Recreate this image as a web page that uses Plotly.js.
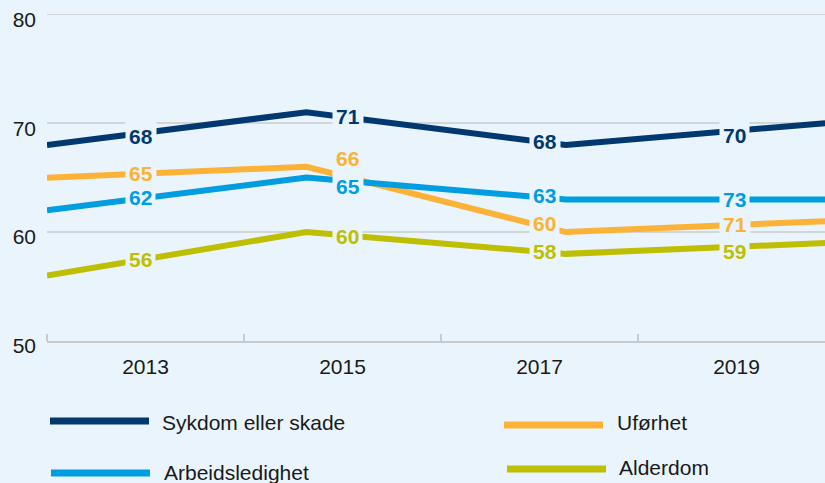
<!DOCTYPE html>
<html><head><meta charset="utf-8">
<script src="https://cdn.plot.ly/plotly-3.0.1.min.js"></script>
<style>html,body{margin:0;padding:0;overflow:hidden;background:#e9f4fc;width:825px;height:483px}</style>
</head><body><div id="chart" style="width:850px;height:483px"></div>
<script>
// ---- data ----
const years = ['2013', '2015', '2017', '2019'];
const seriesNames = ['Sykdom eller skade', 'Uførhet', 'Arbeidsledighet', 'Alderdom'];
const sykdom = [68, 71, 68, 70];
const uforhet = [65, 66, 60, 61];
const arbeid = [62, 65, 63, 63];
const alderdom = [56, 60, 58, 59];
// data labels as printed in the chart
const sykdomLabels = ['68', '71', '68', '70'];
const uforhetLabels = ['65', '66', '60', '71'];
const arbeidLabels = ['62', '65', '63', '73'];
const alderdomLabels = ['56', '60', '58', '59'];
const yTicks = [50, 60, 70, 80];

// ---- style ----
const BG = '#e9f4fc';
const colors = ['#00386f', '#fbb236', '#009de0', '#bebf00'];
const FONT = 'Liberation Sans, Arial, Helvetica, sans-serif';
const lineSpan = 3.95;            // line runs across (almost) the whole category band area
const labelXShift = [-5, 5, 5, -2];
const labelYShift = [
  [-4, 0, 0, -5],
  [0, 17, 2, 0],
  [0, -6, 2, 0],
  [0, -1, 0, -5]
];

const values = [sykdom, uforhet, arbeid, alderdom];
const labels = [sykdomLabels, uforhetLabels, arbeidLabels, alderdomLabels];
const n = years.length;
const lineX = years.map((_, i) => i * lineSpan / (n - 1));
const catX = years.map((_, i) => i + 0.5);

function interp(xs, ys, x) {
  for (let i = 0; i < xs.length - 1; i++) {
    if (x >= xs[i] && x <= xs[i + 1]) {
      const t = (x - xs[i]) / (xs[i + 1] - xs[i]);
      return ys[i] + t * (ys[i + 1] - ys[i]);
    }
  }
  return ys[ys.length - 1];
}

const traces = values.map((v, s) => ({
  type: 'scatter', mode: 'lines', x: lineX, y: v, name: seriesNames[s],
  line: {color: colors[s], width: 6}, hoverinfo: 'skip', showlegend: false
}));

const annotations = [];
values.forEach((v, s) => {
  catX.forEach((cx, i) => {
    annotations.push({
      x: cx, y: interp(lineX, v, cx), xref: 'x', yref: 'y',
      text: labels[s][i], showarrow: false,
      xshift: labelXShift[i], yshift: labelYShift[s][i],
      font: {family: FONT, size: 21, color: colors[s], weight: 'bold'},
      bgcolor: BG, borderpad: 3
    });
  });
});

// legend (drawn with shapes + text, in plot-relative paper coordinates)
const L = 47, W = 788, T = 11, H = 330;
const px = x => (x - L) / W;
const py = y => (T + H - y) / H;
const legendItems = [
  {s: 0, x0: 50, x1: 149, y: 421, tx: 160, ty: 422},
  {s: 1, x0: 504, x1: 603, y: 425, tx: 615, ty: 422},
  {s: 2, x0: 51, x1: 150, y: 473, tx: 162, ty: 472},
  {s: 3, x0: 507, x1: 606, y: 469, tx: 617, ty: 467}
];
const shapes = [];
legendItems.forEach(it => {
  shapes.push({type: 'line', xref: 'paper', yref: 'paper',
    x0: px(it.x0), x1: px(it.x1), y0: py(it.y), y1: py(it.y),
    line: {color: colors[it.s], width: 7}});
  annotations.push({xref: 'paper', yref: 'paper', x: px(it.tx), y: py(it.ty),
    xanchor: 'left', yanchor: 'middle', showarrow: false, text: seriesNames[it.s],
    font: {family: FONT, size: 21, color: '#1a1a1a'}});
});

const layout = {
  width: 850, height: 483,
  margin: {l: L, r: 850 - L - W, t: T, b: 483 - T - H},
  paper_bgcolor: BG, plot_bgcolor: BG,
  showlegend: false,
  font: {family: FONT, size: 21, color: '#1a1a1a'},
  xaxis: {
    range: [0, 4], tickmode: 'array', tickvals: catX, ticktext: years,
    ticks: '', showgrid: false, zeroline: false,
    showline: true, linecolor: '#c9cacb', linewidth: 1.5,
    ticklabelstandoff: 6,
    minor: {ticks: 'inside', ticklen: 7, tickcolor: '#c9cacb', tickwidth: 1.5, tick0: 0, dtick: 1, showgrid: false},
    fixedrange: true
  },
  yaxis: {
    range: [50, 80.3], tickmode: 'array', tickvals: yTicks,
    ticks: '', showgrid: true, gridcolor: '#d3d6d8', gridwidth: 1.5,
    zeroline: false, showline: false, ticklabelstandoff: 10, ticklabelshift: 5,
    fixedrange: true
  },
  shapes: shapes,
  annotations: annotations
};

Plotly.newPlot('chart', traces, layout, {displayModeBar: false, staticPlot: true});
</script>
</body></html>
